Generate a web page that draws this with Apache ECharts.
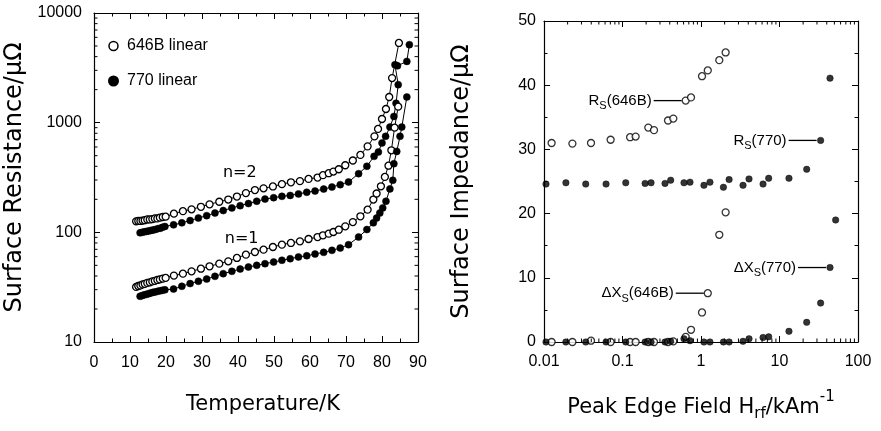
<!DOCTYPE html>
<html><head><meta charset="utf-8">
<script src="https://cdn.jsdelivr.net/npm/echarts@6/dist/echarts.min.js"></script>
<style>html,body{margin:0;padding:0;background:#fff}#c{width:881px;height:431px}</style>
</head><body><div id="c"></div>
<script>
// ---------- Left panel: surface resistance vs temperature ----------
const T646n2 = [11.7,12.3,12.9,13.5,14.1,14.8,15.5,16.2,16.9,17.6,18.3,19.1,19.9,22.2,24.7,27.1,29.7,32.1,34.8,37.3,39.7,42.2,44.7,47.1,49.7,52.2,54.7,57.2,59.6,62.1,63.6,65.2,66.5,68.0,69.8,71.9,74.0,76.0,77.9,78.9,80.0,81.1,82.0,82.8,84.7];
const R646n2 = [126,127,127,128,129,131,131,132,134,134,136,138,139,148,156,162,171,180,190,199,212,228,243,252,262,275,286,293,307,316,332,346,358,376,409,452,508,608,750,877,1080,1333,1714,2550,5330];
const T646n1 = [11.7,12.3,12.9,13.5,14.1,14.8,15.5,16.2,16.9,17.6,18.3,19.1,19.9,22.2,24.7,27.1,29.7,32.1,34.8,37.3,39.7,42.2,44.7,47.1,49.7,52.2,54.7,57.2,59.6,62.1,63.6,65.2,66.5,68.0,69.8,71.9,74.0,76.0,77.6,78.5,79.7,80.8,81.8,82.6,83.5,84.5];
const R646n1 = [31.8,32.4,32.8,33.5,33.9,34.6,35.0,35.7,36.1,36.8,37.2,37.9,38.4,40.3,42.0,44.1,46.6,49.0,51.8,54.4,58.4,62.6,66.2,69.5,73.5,77.2,80.0,82.8,86.9,90.6,94.0,97.2,100.7,105.7,113.4,124,140,161,199,226,263,320,405,560,900,1400];
const T770n2 = [12.8,13.4,14.0,14.6,15.2,15.8,16.4,17.0,17.7,18.4,19.0,19.7,22.1,24.4,26.7,29.0,31.3,33.6,35.9,38.3,40.6,42.9,45.2,47.5,49.9,52.2,54.5,56.8,59.1,61.4,63.8,66.1,68.4,70.7,73.5,75.8,77.8,79.0,80.0,81.0,82.2,83.3,83.9,84.5,83.6,84.3,86.9,87.6];
const R770n2 = [99,100,101,102,103,104,105,106,108,109,111,113,117,122,128,135,142,150,158,167,175,183,192,201,207,213,217,224,232,238,248,259,272,288,343,400,493,540,653,750,912,1140,1503,2220,3380,3300,3620,5140];
const T770n1 = [12.8,13.4,14.0,14.6,15.2,15.8,16.4,17.0,17.7,18.4,19.0,19.7,22.1,24.4,26.7,29.0,31.3,33.6,35.9,38.3,40.6,42.9,45.2,47.5,49.9,52.2,54.5,56.8,59.1,61.4,63.8,66.1,68.4,70.7,73.5,75.8,77.6,78.5,79.4,80.2,81.1,82.2,83.0,83.3,84.1,85.0,85.5,86.9];
const R770n1 = [26.1,26.5,26.9,27.2,27.6,28.0,28.4,28.6,29.0,29.3,29.6,29.9,30.4,32.2,34.1,35.8,37.5,39.7,42.0,44.1,46.3,48.3,50.0,51.8,53.6,55.6,57.5,59.6,61.2,63.4,65.7,68.5,71.9,77.2,90.6,106,122,135,150,167,192,249,298,423,547,750,912,1714];
const leftYTickLabels = {10:'10', 100:'100', 1000:'1000', 10000:'10000'};
const harmonicText = ['n=2', 'n=1'];
const harmonicT = [40.5, 41.0];
const harmonicR = [352, 87];

// ---------- Right panel: surface impedance vs peak edge field ----------
const H646 = [0.0125,0.023,0.0397,0.0706,0.125,0.147,0.213,0.252,0.38,0.444,0.638,0.746,1.03,1.22,1.71,2.06];
const Rs646 = [31.0,30.9,31.0,31.5,31.9,32.0,33.4,33.0,34.5,34.8,37.6,38.1,41.4,42.3,43.9,45.1];
const dX646 = [0.0,0.0,0.2,0.0,0.0,0.0,0.0,0.0,0.0,0.1,0.8,1.9,4.6,7.6,16.7,20.2];
const H770rs = [0.0106,0.019,0.034,0.0617,0.11,0.194,0.231,0.348,0.411,0.607,0.724,1.09,1.30,1.93,2.28,3.43,4.09,6.17,7.28,13.2,22.2,33.4,44.0];
const Rs770 = [24.6,24.8,24.6,24.6,24.8,24.7,24.8,24.7,25.2,24.8,24.9,24.4,24.9,24.1,25.3,24.4,25.4,24.6,25.5,25.5,26.9,31.4,41.1];
const H770dx = [0.0106,0.019,0.034,0.0617,0.11,0.194,0.231,0.348,0.411,0.607,0.724,1.09,1.30,1.93,2.28,3.43,4.09,6.17,7.28,13.2,22.2,33.4,44.0,51.9];
const dX770 = [0,0,0,0,0,0,0,0,0.1,0.5,0.2,0,0,0,0,0.1,0.5,0.7,0.8,1.66,3.06,6.06,11.6,19.0];
const rightXTickLabels = ['0.01','0.1','1','10','100'];
// annotations (text + the point they point to)
const annText = ['R{s|S}(646B)', 'R{s|S}(770)', 'ΔX{s|S}(646B)', 'ΔX{s|S}(770)'];
const annH = [H646[10], H770rs[21], H646[13], H770dx[22]];
const annV = [Rs646[10], Rs770[21], dX646[13], dX770[22]];

const zip = (a, b) => a.map((v, i) => [v, b[i]]);
const BLACK = '#000';
const TICKFONT = {fontFamily: 'Liberation Sans', fontSize: 16, color: BLACK};
const TITLEFONT = 'DejaVu Sans';

// minor tick values for log axes
const leftMinor = [];
[10, 100, 1000].forEach(d => { for (let k = 2; k <= 9; k++) leftMinor.push(k * d); });
const rightMinor = [];
[0.01, 0.1, 1, 10].forEach(d => { for (let k = 2; k <= 9; k++) rightMinor.push(+(k * d).toPrecision(3)); });

function yMinorTicks(params, api) {
  const cs = params.coordSys;
  const p = api.coord([api.value(0), api.value(1)]);
  const st = {stroke: BLACK, lineWidth: 1};
  return {type: 'group', children: [
    {type: 'line', shape: {x1: cs.x, y1: p[1], x2: cs.x + 3.5, y2: p[1]}, style: st},
    {type: 'line', shape: {x1: cs.x + cs.width, y1: p[1], x2: cs.x + cs.width - 3.5, y2: p[1]}, style: st}
  ]};
}
function xMinorTicks(params, api) {
  const cs = params.coordSys;
  const p = api.coord([api.value(0), api.value(1)]);
  const st = {stroke: BLACK, lineWidth: 1};
  return {type: 'group', children: [
    {type: 'line', shape: {x1: p[0], y1: cs.y + cs.height, x2: p[0], y2: cs.y + cs.height - 3.5}, style: st},
    {type: 'line', shape: {x1: p[0], y1: cs.y, x2: p[0], y2: cs.y + 3.5}, style: st}
  ]};
}
function harmonicLabel(params, api) {
  const p = api.coord([api.value(0), api.value(1)]);
  return {type: 'text', x: p[0], y: p[1], style: {text: harmonicText[params.dataIndex], fontFamily: TITLEFONT, fontSize: 16, fill: BLACK, align: 'center', verticalAlign: 'middle'}};
}
function annotation(params, api) {
  const p = api.coord([api.value(0), api.value(1)]);
  const r = 4, L = 28;
  return {type: 'group', children: [
    {type: 'line', shape: {x1: p[0] - r - L, y1: p[1], x2: p[0] - r, y2: p[1]}, style: {stroke: BLACK, lineWidth: 1.3}},
    {type: 'text', x: p[0] - r - L - 2, y: p[1], style: {
      text: annText[params.dataIndex], fontFamily: 'Liberation Sans', fontSize: 15, fill: BLACK,
      align: 'right', verticalAlign: 'middle',
      rich: {s: {fontFamily: 'Liberation Sans', fontSize: 11, padding: [11, 0, 0, 0], fill: BLACK, color: BLACK}}
    }}
  ]};
}

const openStyle = {color: '#fff', borderColor: BLACK, borderWidth: 1.3};
const fillStyle = {color: BLACK, borderColor: BLACK, borderWidth: 0.5};

function lineSeries(name, T, R, style) {
  return {type: 'line', name, xAxisIndex: 0, yAxisIndex: 0, data: zip(T, R), symbol: 'circle', symbolSize: 7,
    showSymbol: true, showAllSymbol: true, itemStyle: style, lineStyle: {color: BLACK, width: 1}, z: 3, clip: false};
}
function scatterSeries(name, H, V, style, size) {
  return {type: 'scatter', name, xAxisIndex: 2, yAxisIndex: 2, data: zip(H, V), symbol: 'circle', symbolSize: size,
    itemStyle: style, z: 3, clip: false};
}

const axisLine = {show: true, onZero: false, lineStyle: {color: BLACK, width: 1.2}};
const tickIn = {show: true, inside: true, length: 6, lineStyle: {color: BLACK, width: 1}};

const option = {
  backgroundColor: '#fff',
  animation: false,
  grid: [
    {left: 94, top: 13, width: 324, height: 329},
    {left: 544, top: 21, width: 314, height: 321}
  ],
  legend: {
    left: 103, top: 33, orient: 'vertical', itemGap: 19, itemWidth: 9, itemHeight: 9,
    textStyle: {fontFamily: 'Liberation Sans', fontSize: 16, color: BLACK, padding: [0, 0, 0, 4]},
    data: [
      {name: '646B linear', icon: 'circle', itemStyle: {color: '#fff', borderColor: BLACK, borderWidth: 1.5}},
      {name: '770 linear', icon: 'circle', itemStyle: {color: BLACK}}
    ]
  },
  xAxis: [
    {gridIndex: 0, type: 'value', min: 0, max: 90, interval: 10, position: 'bottom', axisLine, axisTick: tickIn,
      minorTick: {show: true, splitNumber: 2, length: 3.5, lineStyle: {color: BLACK}}, splitLine: {show: false},
      axisLabel: Object.assign({margin: 13}, TICKFONT),
      name: 'Temperature/K', nameLocation: 'middle', nameGap: 52,
      nameTextStyle: {fontFamily: TITLEFONT, fontSize: 21, color: BLACK, padding: [0, 0, 0, 14]}},
    {gridIndex: 0, type: 'value', min: 0, max: 90, interval: 10, position: 'top', axisLine, axisTick: tickIn,
      minorTick: {show: true, splitNumber: 2, length: 3.5, lineStyle: {color: BLACK}}, splitLine: {show: false},
      axisLabel: {show: false}},
    {gridIndex: 1, type: 'log', logBase: 10, min: 0.01, max: 100, position: 'bottom', axisLine, axisTick: tickIn,
      splitLine: {show: false},
      axisLabel: Object.assign({margin: 12, formatter: v => rightXTickLabels[Math.round(Math.log10(v)) + 2]}, TICKFONT),
      name: 'Peak Edge Field H{sub|rf}/kAm{sup|-1}', nameLocation: 'middle', nameGap: 48,
      nameTextStyle: {fontFamily: TITLEFONT, fontSize: 21, color: BLACK, rich: {
        sub: {fontFamily: TITLEFONT, fontSize: 15, color: BLACK, padding: [14, 0, 0, 0]},
        sup: {fontFamily: TITLEFONT, fontSize: 15, color: BLACK, padding: [0, 0, 20, 0]}
      }}},
    {gridIndex: 1, type: 'log', logBase: 10, min: 0.01, max: 100, position: 'top', axisLine, axisTick: tickIn,
      splitLine: {show: false}, axisLabel: {show: false}}
  ],
  yAxis: [
    {gridIndex: 0, type: 'log', logBase: 10, min: 10, max: 10000, position: 'left', axisLine, axisTick: tickIn,
      splitLine: {show: false},
      axisLabel: Object.assign({margin: 12, formatter: v => leftYTickLabels[Math.round(v)] || ''}, TICKFONT),
      name: 'Surface Resistance/μΩ', nameLocation: 'middle', nameGap: 67, nameRotate: 90,
      nameTextStyle: {fontFamily: TITLEFONT, fontSize: 24, color: BLACK}},
    {gridIndex: 0, type: 'log', logBase: 10, min: 10, max: 10000, position: 'right', axisLine, axisTick: tickIn,
      splitLine: {show: false}, axisLabel: {show: false}},
    {gridIndex: 1, type: 'value', min: 0, max: 50, interval: 10, position: 'left', axisLine, axisTick: tickIn,
      minorTick: {show: true, splitNumber: 2, length: 3.5, lineStyle: {color: BLACK}}, splitLine: {show: false},
      axisLabel: Object.assign({margin: 8}, TICKFONT),
      name: 'Surface Impedance/μΩ', nameLocation: 'middle', nameGap: 70, nameRotate: 90,
      nameTextStyle: {fontFamily: TITLEFONT, fontSize: 24, color: BLACK}},
    {gridIndex: 1, type: 'value', min: 0, max: 50, interval: 10, position: 'right', axisLine, axisTick: tickIn,
      minorTick: {show: true, splitNumber: 2, length: 3.5, lineStyle: {color: BLACK}}, splitLine: {show: false},
      axisLabel: {show: false}}
  ],
  series: [
    lineSeries('646B linear', T646n2, R646n2, openStyle),
    lineSeries('770 linear', T770n2, R770n2, fillStyle),
    lineSeries('646B linear', T646n1, R646n1, openStyle),
    lineSeries('770 linear', T770n1, R770n1, fillStyle),
    {type: 'custom', xAxisIndex: 0, yAxisIndex: 0, silent: true, clip: false, z: 5,
      data: leftMinor.map(v => [0, v]), renderItem: yMinorTicks},
    {type: 'custom', xAxisIndex: 0, yAxisIndex: 0, silent: true, clip: false, z: 5,
      data: zip(harmonicT, harmonicR), renderItem: harmonicLabel},
    scatterSeries('Rs646B', H646, Rs646, openStyle, 7),
    scatterSeries('Rs770', H770rs, Rs770, fillStyle, 6.5),
    scatterSeries('dX646B', H646, dX646, openStyle, 7),
    scatterSeries('dX770', H770dx, dX770, fillStyle, 6.5),
    {type: 'custom', xAxisIndex: 2, yAxisIndex: 2, silent: true, clip: false, z: 5,
      data: rightMinor.map(v => [v, 0]), renderItem: xMinorTicks},
    {type: 'custom', xAxisIndex: 2, yAxisIndex: 2, silent: true, clip: false, z: 5,
      data: zip(annH, annV), renderItem: annotation}
  ]
};
const chart = echarts.init(document.getElementById('c'), null, {renderer: 'canvas'});
chart.setOption(option);
</script></body></html>
